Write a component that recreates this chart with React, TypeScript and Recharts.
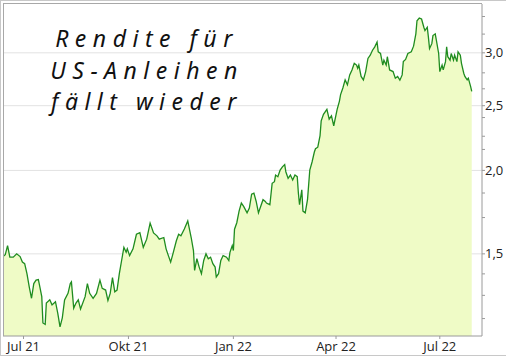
import { AreaChart, Area, XAxis, YAxis, CartesianGrid } from "recharts"

// days since 2021-06-13, one reading every ~2 trading days
const days = [
  0, 2, 4, 6, 9, 12, 15, 17, 19, 21, 23, 25, 27, 29, 31, 32, 34, 35, 37, 38,
  41, 43, 46, 48, 50, 52, 54, 57, 59, 60, 62, 64, 66, 68, 72, 74, 76, 79, 82, 85,
  87, 90, 92, 94, 96, 98, 100, 102, 104, 106, 108, 109, 111, 114, 117, 120, 123, 126, 129, 132,
  135, 137, 141, 143, 145, 147, 149, 152, 154, 156, 159, 162, 165, 167, 168, 170, 172, 174, 176, 178,
  180, 182, 184, 186, 187, 189, 191, 193, 196, 198, 199, 201, 202, 203, 205, 207, 209, 211, 214, 216,
  218, 220, 222, 224, 226, 228, 230, 231, 234, 236, 238, 239, 241, 243, 245, 247, 248, 250, 252, 254,
  256, 258, 259, 260, 262, 263, 265, 267, 269, 271, 273, 274, 276, 278, 279, 281, 284, 286, 288, 290,
  293, 295, 296, 298, 300, 302, 304, 306, 308, 310, 311, 312, 314, 316, 318, 320, 322, 324, 326, 328,
  329, 331, 333, 334, 336, 337, 339, 342, 344, 346, 348, 350, 351, 353, 355, 358, 360, 362, 363, 365,
  367, 369, 370, 372, 373, 374, 376, 377, 379, 380, 382, 383, 385, 386, 388, 389, 390, 392, 393, 395,
  396, 398, 399, 401, 402, 404, 405, 407, 408, 410, 411,
]

// US 10y yield, %
const yields = [
  1.486, 1.496, 1.543, 1.483, 1.483, 1.5, 1.486, 1.458, 1.45, 1.401, 1.339, 1.287, 1.354, 1.37, 1.373, 1.347, 1.294, 1.182, 1.176, 1.266,
  1.28, 1.258, 1.272, 1.223, 1.166, 1.203, 1.28, 1.309, 1.354, 1.362, 1.244, 1.266, 1.28, 1.24, 1.294, 1.354, 1.309, 1.287, 1.309, 1.37,
  1.332, 1.324, 1.277, 1.309, 1.382, 1.316, 1.324, 1.401, 1.466, 1.534, 1.508, 1.526, 1.491, 1.526, 1.605, 1.614, 1.534, 1.578, 1.668, 1.612,
  1.596, 1.578, 1.587, 1.526, 1.491, 1.458, 1.5, 1.569, 1.605, 1.596, 1.634, 1.68, 1.587, 1.517, 1.417, 1.475, 1.433, 1.401, 1.466, 1.5,
  1.475, 1.483, 1.45, 1.433, 1.385, 1.401, 1.466, 1.491, 1.483, 1.466, 1.508, 1.543, 1.517, 1.633, 1.67, 1.738, 1.787, 1.767, 1.728, 1.757,
  1.843, 1.849, 1.797, 1.728, 1.767, 1.808, 1.797, 1.787, 1.777, 1.913, 1.924, 1.968, 1.957, 2.002, 2.025, 2.041, 1.991, 1.946, 1.968, 1.935,
  1.968, 1.957, 1.849, 1.777, 1.87, 1.738, 1.728, 1.808, 2.002, 2.059, 2.131, 2.155, 2.167, 2.255, 2.373, 2.427, 2.468, 2.386, 2.414, 2.333,
  2.468, 2.54, 2.597, 2.657, 2.733, 2.687, 2.78, 2.828, 2.893, 2.876, 2.844, 2.876, 2.765, 2.733, 2.812, 2.943, 2.976, 3.027, 3.062, 3.114,
  3.01, 2.993, 2.876, 2.925, 2.876, 2.96, 2.828, 2.812, 2.749, 2.765, 2.73, 2.78, 2.91, 2.932, 2.993, 3.01, 3.07, 3.203, 3.351, 3.382,
  3.371, 3.277, 3.239, 3.277, 3.167, 3.044, 3.096, 3.184, 3.203, 3.131, 2.993, 2.812, 2.876, 2.828, 2.91, 3.062, 2.96, 2.925, 2.993, 2.925,
  2.976, 2.91, 3.01, 2.976, 2.893, 2.796, 2.765, 2.733, 2.749, 2.672, 2.627,
]

const monthTicks = [18, 110, 202, 292, 383]
const monthLabels = ["Jul 21", "Okt 21", "Jan 22", "Apr 22", "Jul 22"]

const yTicks = [1.2, 1.3, 1.4, 1.5, 1.7, 1.85, 2, 2.15, 2.25, 2.4, 2.5, 2.65, 2.8, 3, 3.2, 3.4]
const yLabelled = [1.5, 2, 2.5, 3]

const titleLines = ["Rendite für", "US-Anleihen", "fällt wieder"]

const data = days.map((d, i) => ({ day: d, value: yields[i] }))

const tickFont = { fontSize: 13, fill: "#222", fontFamily: "Open Sans, sans-serif" }

export default function App() {
  return (
    <div style={{ position: "absolute", left: 0, top: 0, width: 506, height: 357, background: "#fff" }}>
      <AreaChart width={506} height={357} data={data} margin={{ top: 4, left: 3, right: 0, bottom: 0 }}>
        <CartesianGrid vertical={false} horizontalValues={yLabelled} stroke="#e2e2e2" />
        <XAxis
          dataKey="day"
          type="number"
          domain={[0, 420]}
          allowDataOverflow
          ticks={monthTicks}
          interval={0}
          tickFormatter={(v) => monthLabels[monthTicks.indexOf(v)] ?? ""}
          tick={tickFont}
          tickSize={3}
          tickMargin={3}
          axisLine={{ stroke: "#9a9a9a" }}
          tickLine={{ stroke: "#9a9a9a" }}
          height={21}
        />
        <YAxis
          orientation="right"
          type="number"
          scale="log"
          domain={[1.13, 3.55]}
          allowDataOverflow
          ticks={yTicks}
          interval={0}
          tickFormatter={(v) => (yLabelled.includes(v) ? v.toFixed(1).replace(".", ",") : "")}
          tick={tickFont}
          tickSize={3}
          tickMargin={0}
          axisLine={{ stroke: "#9a9a9a" }}
          tickLine={{ stroke: "#9a9a9a" }}
          width={24}
        />
        <Area
          type="linear"
          dataKey="value"
          stroke="#1f8c1f"
          strokeWidth={1.3}
          fill="#effbc6"
          fillOpacity={1}
          dot={false}
          activeDot={false}
          isAnimationActive={false}
        />
      </AreaChart>

      {/* frame: outer box and top/left plot border */}
      <div style={{ position: "absolute", left: 0, top: 0, width: 506, height: 356, boxSizing: "border-box", borderTop: "1px solid #c8c8c8", borderLeft: "1px solid #c8c8c8", borderBottom: "1px solid #c8c8c8", pointerEvents: "none" }} />
      <div style={{ position: "absolute", left: 3, top: 3, width: 479, height: 333, boxSizing: "border-box", borderTop: "1px solid #a8a8a8", borderLeft: "1px solid #a8a8a8", pointerEvents: "none" }} />

      <svg width={300} height={130} style={{ position: "absolute", left: 0, top: 0, pointerEvents: "none" }}>
        {titleLines.map((t, i) => (
          <text
            key={t}
            x={147}
            y={[47, 79, 110][i]}
            textAnchor="middle"
            fontFamily="Noto Sans, sans-serif"
            fontStyle="italic"
            fontSize={23}
            letterSpacing={6.5}
            fill="#111"
          >
            {t}
          </text>
        ))}
      </svg>
    </div>
  )
}
